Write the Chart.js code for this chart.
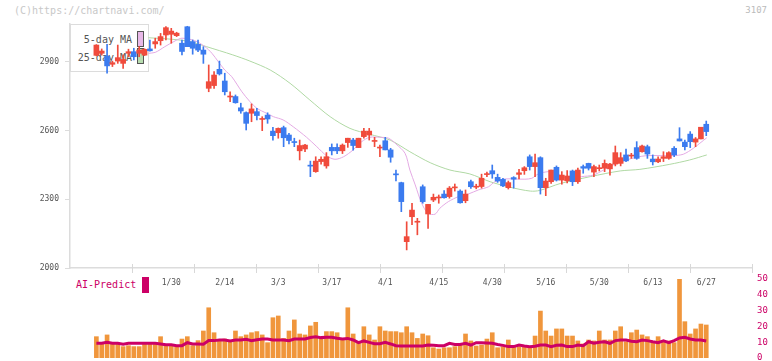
<!DOCTYPE html>
<html>
<head>
<meta charset="utf-8">
<script src="https://cdn.jsdelivr.net/npm/chart.js@4.4.1/dist/chart.umd.min.js"></script>
<style>
  body { margin: 0; background: #fff; }
  #wrap { position: relative; width: 772px; height: 361px; background: #fff; font-family: "DejaVu Sans Mono", monospace; }
  #wrap canvas { position: absolute; left: 0; top: 0; }
  .wm { position: absolute; left: 14px; top: 5px; font-size: 10px; color: #c8c8c8; }
  .code { position: absolute; right: 5px; top: 5px; font-size: 9px; color: #bbb; }
  .lgbox { position: absolute; left: 70px; top: 24px; width: 77px; height: 46px; border: 1px solid #dcdcdc; background: #fff; }
  .lgrow { position: absolute; right: 16px; font-size: 10px; color: #555; }
  .sw { position: absolute; left: 66px; width: 5px; border: 1px solid #555; }
  .ai { position: absolute; left: 76px; top: 279px; font-size: 10px; color: #cc0066; }
  .aibox { position: absolute; left: 142px; top: 277px; width: 7px; height: 16px; background: #cc0066; }
</style>
</head>
<body>
<div id="wrap">
  <div class="wm">(C)https://chartnavi.com/</div>
  <div class="code">3107</div>
  <div class="lgbox">
    <div class="lgrow" style="top:9px">5-day MA</div>
    <div class="lgrow" style="top:27px">25-day MA</div>
    <div class="sw" style="top:6px;height:14px;background:#e8b8e8"></div>
    <div class="sw" style="top:23px;height:14px;background:#b8ddb0"></div>
  </div>
  <div class="ai">AI-Predict</div>
  <div class="aibox"></div>
  <canvas id="vol" width="772" height="361"></canvas>
  <canvas id="main" width="772" height="361"></canvas>
</div>
<script>
// trading days shown on the chart
var dates = ["1/9","1/10","1/14","1/15","1/16","1/17","1/20","1/21","1/22","1/23","1/24","1/27","1/28","1/29","1/30","1/31",
  "2/3","2/4","2/5","2/6","2/7","2/10","2/12","2/13","2/14","2/17","2/18","2/19","2/20","2/21","2/25","2/26","2/27","2/28",
  "3/3","3/4","3/5","3/6","3/7","3/10","3/11","3/12","3/13","3/14","3/17","3/18","3/19","3/21","3/24","3/25","3/26","3/27","3/28","3/31",
  "4/1","4/2","4/3","4/4","4/7","4/8","4/9","4/10","4/11","4/14","4/15","4/16","4/17","4/18","4/21","4/22","4/23","4/24","4/25","4/28","4/30",
  "5/1","5/2","5/7","5/8","5/9","5/12","5/13","5/14","5/15","5/16","5/19","5/20","5/21","5/22","5/23","5/26","5/27","5/28","5/29","5/30",
  "6/2","6/3","6/4","6/5","6/6","6/9","6/10","6/11","6/12","6/13","6/16","6/17","6/18","6/19","6/20","6/23","6/24","6/25","6/26","6/27"];

var opens = [2929,2938,2926,2890,2904,2894,2938,2945,2938,2930, 2957,2979,2993,3018,3021,3015,2982,3054,2989,2977,
  2952,2785,2797,2868,2817,2747,2749,2700,2679,2676, 2683,2649,2668,2598,2591,2613,2581,2552,2512,2520,
  2449,2421,2465,2446,2527,2527,2512,2548,2559,2526, 2574,2581,2553,2524,2556,2516,2411,2373,2115,2224,
  2200,2355,2236,2297,2306,2323,2312,2350,2336,2294, 2377,2353,2356,2408,2425,2396,2387,2351,2395,2409,
  2425,2486,2443,2482,2351,2377,2440,2384,2381,2424, 2377,2443,2457,2419,2434,2436,2433,2454,2457,2494,
  2489,2526,2508,2530,2476,2464,2479,2479,2523,2564, 2550,2585,2550,2564,2628];
var highs = [2976,2957,2977,2904,2974,2931,2956,2960,2967,2958, 2996,3004,3025,3055,3047,3030,2996,3056,2996,2996,
  2967,2887,2858,2904,2851,2770,2756,2720,2682,2717, 2698,2661,2678,2615,2612,2620,2588,2567,2559,2540,
  2467,2486,2486,2504,2542,2542,2542,2567,2567,2567, 2610,2610,2571,2537,2571,2523,2428,2375,2202,2283,
  2217,2363,2278,2323,2319,2338,2356,2367,2341,2341, 2384,2366,2410,2419,2450,2410,2392,2380,2399,2431,
  2443,2494,2498,2486,2392,2428,2446,2421,2426,2428, 2436,2450,2458,2450,2450,2472,2457,2533,2504,2520,
  2501,2552,2537,2537,2494,2486,2508,2508,2530,2613, 2559,2596,2570,2615,2642];
var lows = [2927,2930,2851,2880,2894,2872,2923,2909,2923,2928, 2947,2960,2974,2996,2982,3011,2931,2967,2934,2945,
  2894,2770,2785,2843,2756,2727,2720,2676,2603,2639, 2647,2600,2632,2559,2567,2530,2542,2530,2472,2508,
  2399,2418,2454,2436,2494,2500,2500,2527,2515,2526, 2567,2559,2530,2486,2516,2462,2380,2246,2079,2189,
  2145,2283,2173,2290,2283,2305,2305,2336,2283,2285, 2348,2346,2349,2399,2392,2374,2355,2345,2349,2389,
  2409,2428,2399,2323,2316,2370,2380,2366,2372,2360, 2370,2414,2428,2399,2424,2421,2406,2446,2446,2465,
  2479,2475,2506,2479,2450,2460,2465,2475,2486,2555, 2516,2526,2530,2564,2578];
var closes = [2974,2948,2883,2897,2919,2911,2945,2923,2952,2955, 2949,2989,3011,3050,3035,3026,2946,2967,2960,2952,
  2934,2814,2843,2848,2770,2750,2722,2686,2632,2695, 2666,2652,2651,2578,2610,2569,2557,2548,2535,2537,
  2445,2467,2475,2486,2512,2512,2537,2567,2535,2567, 2598,2598,2556,2527,2516,2484,2407,2290,2137,2253,
  2203,2290,2278,2309,2308,2307,2349,2353,2285,2323, 2355,2356,2392,2411,2411,2380,2359,2373,2388,2416,
  2438,2443,2460,2351,2380,2428,2384,2406,2402,2377, 2428,2436,2436,2443,2437,2457,2454,2504,2482,2468,
  2492,2479,2533,2498,2464,2476,2486,2504,2494,2555, 2530,2552,2564,2615,2596];

// moving averages (position in days, price)
var ma5Pos = [9.7,11,12.8,14.7,16,18.4,20.3,21.6,22.8,24,25.3,27.2,28.7,30,31.8,33.1,34.9,36.8,39.3,41.2,43.1,44.6,46.2,48,49.6,
  51.1,53,54.6,56,57.7,58.6,59.6,60.8,62,63.3,64.2,65.8,67.7,69.5,71.4,73.3,74.5,76.4,78.3,80.1,81.4,82.6,84.5,85.7,87,88.5,
  90.7,92.9,94.8,96.6,99.1,101,102.9,105.4,107.8,109.7,111.6,112.8,114.1];
var ma5 = [2938,2942,2967,2992,3004,2993,2967,2938,2901,2865,2836,2770,2727,2698,2676,2661,2647,2617,2571,2530,2489,2475,2486,2516,2552,
  2571,2571,2567,2542,2501,2428,2363,2283,2239,2235,2261,2290,2312,2323,2341,2355,2377,2389,2389,2388,2392,2411,2421,2416,2402,2390,
  2399,2406,2428,2450,2472,2484,2491,2491,2491,2497,2523,2545,2569];
var ma25Pos = [9.7,14.3,17.5,20.6,25.5,28.7,32.5,36.2,39.9,43.7,47.4,51.1,54.9,58.6,62.4,66.1,69.8,73.6,77.3,81.1,82.9,86.7,92.3,97.9,101.6,107.2,110.9,114.1];
var ma25 = [3006,2999,2989,2967,2931,2904,2865,2807,2734,2661,2610,2584,2559,2508,2460,2428,2411,2377,2353,2336,2339,2369,2399,2424,2431,2453,2472,2494];

var volume = [13.5,8.9,14.6,8.9,8.9,7.2,7.8,7.2,7.2,8.9, 8.9,8.9,13.5,7.8,7.8,7.2,12.0,13.5,7.8,11.0,
  17.1,31.8,16.0,11.0,12.0,11.0,17.1,13.5,14.6,16.0, 16.7,14.6,9.7,25.5,26.6,12.4,17.1,24.1,15.2,14.6,
  20.3,22.6,11.8,16.7,16.7,16.0,12.4,31.8,15.2,9.3, 19.8,14.6,11.4,19.8,17.1,16.7,16.7,16.0,19.8,16.0,
  12.4,15.2,14.1,6.5,5.7,6.5,6.5,7.2,8.2,15.2, 10.8,7.6,8.2,12.0,16.0,6.5,7.2,11.4,7.2,7.2,
  7.6,7.2,13.9,29.7,17.1,13.9,18.4,18.4,13.9,13.9, 10.8,8.9,11.4,10.8,17.1,11.4,11.4,17.1,19.8,10.3,
  16.0,17.7,14.6,13.5,10.3,13.5,10.8,10.8,9.7,50, 23.0,15.2,18.4,21.5,20.9];
var aiPredict = [9.3,9.3,9.9,9.3,9.3,8.7,9.3,9.3,9.3,9.3, 9.3,9.3,8.9,8.4,8.4,7.8,7.8,9.7,8.9,8.9,
  8.7,11.0,11.0,11.4,11.4,10.8,11.4,11.4,11.8,11.0, 11.5,12.0,12.0,11.4,11.4,11.4,11.0,12.0,12.0,12.0,
  13.0,13.5,12.9,13.1,13.1,12.5,12.0,12.4,11.4,9.7, 10.8,9.9,9.0,9.0,9.9,8.9,7.8,7.6,7.6,7.6,
  7.6,7.6,8.2,8.0,7.8,7.8,9.3,8.6,8.6,9.3, 8.2,9.7,9.7,9.5,9.3,8.5,8.0,7.2,7.2,8.2,
  7.6,7.2,7.4,8.2,8.2,7.2,8.0,8.2,7.2,7.2, 8.2,7.8,10.3,9.3,10.0,10.3,9.3,11.0,11.4,11.4,
  10.6,10.3,11.4,11.0,10.3,9.7,10.8,9.7,11.0,12.7, 13.1,12.0,11.4,11.4,10.8];

var priceTicks = [2000, 2300, 2600, 2900];
var volTicks = [0, 10, 20, 30, 40, 50];
var dateTicks = [14, 24, 34, 44, 54, 64, 74, 84, 94, 104, 114];

var upColor = '#f04b3c';
var downColor = '#3b7bef';
var monoFont = 'DejaVu Sans Mono';

// same horizontal range for both panels so the bars line up with the candles
var xMin = -4.93;
var xMax = 122.55;

var bodies = [], wicks = [], candleColors = [];
for (var i = 0; i < opens.length; i++) {
    bodies.push({x: i, y: [opens[i], closes[i]]});
    wicks.push({x: i, y: [lows[i], highs[i]]});
    candleColors.push(closes[i] >= opens[i] ? upColor : downColor);
}
var ma5Data = ma5Pos.map(function(p, k) { return {x: p, y: ma5[k]}; });
var ma25Data = ma25Pos.map(function(p, k) { return {x: p, y: ma25[k]}; });
var volData = volume.map(function(v, k) { return {x: k, y: v}; });
var aiData = aiPredict.map(function(v, k) { return {x: k, y: v}; });

// small tick marks dividing the date axis into equal parts
var axisMarks = {
    id: 'axisMarks',
    afterDraw: function(chart) {
        var a = chart.chartArea, ctx = chart.ctx;
        ctx.save();
        ctx.strokeStyle = '#d8d8d8';
        ctx.lineWidth = 1;
        for (var k = 1; k <= 11; k++) {
            var px = Math.round(a.left + k * (a.right - a.left) / 11) + 0.5;
            ctx.beginPath();
            ctx.moveTo(px, a.bottom - 4);
            ctx.lineTo(px, a.bottom + 5);
            ctx.stroke();
        }
        ctx.restore();
    }
};

new Chart(document.getElementById('main').getContext('2d'), {
    type: 'bar',
    data: {
        datasets: [{
            data: bodies,
            backgroundColor: candleColors,
            barThickness: 5,
            minBarLength: 1,
            grouped: false
        }, {
            data: wicks,
            backgroundColor: candleColors,
            barThickness: 1,
            grouped: false
        }, {
            type: 'line',
            data: ma5Data,
            borderColor: '#e4aae4',
            borderWidth: 1,
            pointRadius: 0,
            tension: 0.3
        }, {
            type: 'line',
            data: ma25Data,
            borderColor: '#b0d9a4',
            borderWidth: 1,
            pointRadius: 0,
            tension: 0.3
        }]
    },
    options: {
        responsive: false,
        animation: false,
        events: [],
        layout: { padding: { left: 0, top: 24, right: 20, bottom: 0 } },
        plugins: { legend: { display: false }, tooltip: { enabled: false } },
        scales: {
            x: {
                type: 'linear',
                offset: false,
                min: xMin,
                max: xMax,
                afterBuildTicks: function(scale) {
                    scale.ticks = dateTicks.map(function(v) { return {value: v}; });
                },
                afterFit: function(scale) {
                    scale.height = 93;
                    scale.paddingLeft = 0;
                    scale.paddingRight = 0;
                },
                grid: { offset: false, drawOnChartArea: false, drawTicks: false, color: '#dcdcdc' },
                border: { color: '#dcdcdc', width: 1.5 },
                ticks: {
                    autoSkip: false,
                    maxRotation: 0,
                    padding: 10,
                    color: '#555',
                    font: { family: monoFont, size: 8 },
                    callback: function(value) { return dates[value]; }
                }
            },
            y: {
                min: 2000,
                max: 3066,
                afterBuildTicks: function(scale) {
                    scale.ticks = priceTicks.map(function(v) { return {value: v}; });
                },
                afterFit: function(scale) {
                    scale.width = 70;
                    scale.paddingTop = 0;
                    scale.paddingBottom = 0;
                },
                grid: { drawOnChartArea: false, tickLength: 5, color: '#dcdcdc' },
                border: { color: '#dcdcdc', width: 1.5 },
                ticks: {
                    padding: 6,
                    color: '#555',
                    font: { family: monoFont, size: 8 },
                    callback: function(value) { return String(value); }
                }
            }
        }
    },
    plugins: [axisMarks]
});

// volume panel with the AI-Predict line
new Chart(document.getElementById('vol').getContext('2d'), {
    type: 'bar',
    data: {
        datasets: [{
            type: 'line',
            data: aiData,
            borderColor: '#cc0066',
            borderWidth: 3,
            pointRadius: 0,
            tension: 0,
            yAxisID: 'y'
        }, {
            data: volData,
            backgroundColor: '#f0963c',
            barThickness: 4,
            yAxisID: 'y'
        }]
    },
    options: {
        responsive: false,
        animation: false,
        events: [],
        layout: { padding: { left: 70, top: 279, right: 0, bottom: 3 } },
        plugins: { legend: { display: false }, tooltip: { enabled: false } },
        scales: {
            x: { type: 'linear', offset: false, min: xMin, max: xMax, display: false },
            y: {
                position: 'right',
                min: 0,
                max: 50,
                afterBuildTicks: function(scale) {
                    scale.ticks = volTicks.map(function(v) { return {value: v}; });
                },
                afterFit: function(scale) {
                    scale.width = 20;
                    scale.paddingTop = 0;
                    scale.paddingBottom = 0;
                },
                grid: { display: false, drawTicks: false },
                border: { display: false },
                ticks: {
                    padding: 5,
                    color: '#cc0066',
                    font: { family: monoFont, size: 9 }
                }
            }
        }
    }
});
</script>
</body>
</html>
